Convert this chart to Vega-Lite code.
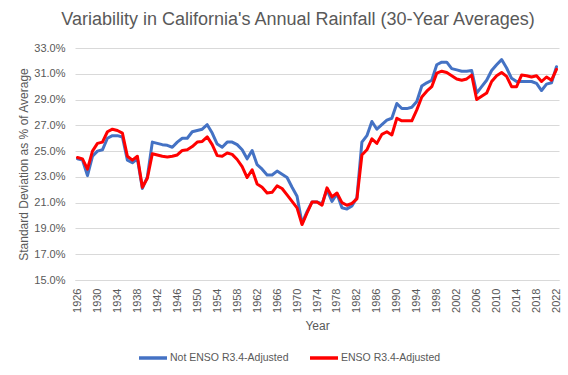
{
  "$schema": "https://vega.github.io/schema/vega-lite/v6.json",
  "width": 484,
  "height": 232,
  "autosize": {"type": "none"},
  "padding": {"left": 75, "top": 48, "right": 9, "bottom": 95},
  "background": "white",
  "title": {
    "text": "Variability in California's Annual Rainfall (30-Year Averages)",
    "fontSize": 18,
    "font": "Liberation Sans",
    "fontWeight": "normal",
    "color": "#595959",
    "anchor": "middle",
    "dx": -19,
    "offset": 13
  },
  "data": {
    "values": [
      {"year": 1926, "s1": 24.4, "s2": 24.5},
      {"year": 1927, "s1": 24.3, "s2": 24.4},
      {"year": 1928, "s1": 23.1, "s2": 23.6},
      {"year": 1929, "s1": 24.6, "s2": 25.0},
      {"year": 1930, "s1": 25.0, "s2": 25.6},
      {"year": 1931, "s1": 25.1, "s2": 25.7},
      {"year": 1932, "s1": 26.0, "s2": 26.5},
      {"year": 1933, "s1": 26.2, "s2": 26.7},
      {"year": 1934, "s1": 26.2, "s2": 26.6},
      {"year": 1935, "s1": 26.1, "s2": 26.4},
      {"year": 1936, "s1": 24.3, "s2": 24.6},
      {"year": 1937, "s1": 24.1, "s2": 24.3},
      {"year": 1938, "s1": 24.4, "s2": 24.6},
      {"year": 1939, "s1": 22.1, "s2": 22.2},
      {"year": 1940, "s1": 23.0, "s2": 22.9},
      {"year": 1941, "s1": 25.7, "s2": 24.8},
      {"year": 1942, "s1": 25.6, "s2": 24.7},
      {"year": 1943, "s1": 25.5, "s2": 24.6},
      {"year": 1944, "s1": 25.45, "s2": 24.55},
      {"year": 1945, "s1": 25.3, "s2": 24.6},
      {"year": 1946, "s1": 25.7, "s2": 24.7},
      {"year": 1947, "s1": 26.0, "s2": 25.05},
      {"year": 1948, "s1": 26.0, "s2": 25.1},
      {"year": 1949, "s1": 26.5, "s2": 25.35},
      {"year": 1950, "s1": 26.6, "s2": 25.7},
      {"year": 1951, "s1": 26.7, "s2": 25.75},
      {"year": 1952, "s1": 27.05, "s2": 26.1},
      {"year": 1953, "s1": 26.4, "s2": 25.5},
      {"year": 1954, "s1": 25.55, "s2": 24.65},
      {"year": 1955, "s1": 25.3, "s2": 24.6},
      {"year": 1956, "s1": 25.7, "s2": 24.85},
      {"year": 1957, "s1": 25.7, "s2": 24.75},
      {"year": 1958, "s1": 25.5, "s2": 24.35},
      {"year": 1959, "s1": 25.1, "s2": 23.8},
      {"year": 1960, "s1": 24.4, "s2": 22.95},
      {"year": 1961, "s1": 25.05, "s2": 23.55},
      {"year": 1962, "s1": 23.95, "s2": 22.45},
      {"year": 1963, "s1": 23.6, "s2": 22.2},
      {"year": 1964, "s1": 23.15, "s2": 21.75},
      {"year": 1965, "s1": 23.15, "s2": 21.8},
      {"year": 1966, "s1": 23.45, "s2": 22.3},
      {"year": 1967, "s1": 23.2, "s2": 22.1},
      {"year": 1968, "s1": 22.95, "s2": 21.6},
      {"year": 1969, "s1": 22.2, "s2": 21.1},
      {"year": 1970, "s1": 21.5, "s2": 20.6},
      {"year": 1971, "s1": 19.4, "s2": 19.3},
      {"year": 1972, "s1": 20.3, "s2": 20.2},
      {"year": 1973, "s1": 21.05, "s2": 21.05},
      {"year": 1974, "s1": 21.05, "s2": 21.05},
      {"year": 1975, "s1": 20.9, "s2": 20.8},
      {"year": 1976, "s1": 22.0, "s2": 22.15},
      {"year": 1977, "s1": 21.1, "s2": 21.45},
      {"year": 1978, "s1": 21.7, "s2": 21.75},
      {"year": 1979, "s1": 20.6, "s2": 21.0},
      {"year": 1980, "s1": 20.5, "s2": 20.8},
      {"year": 1981, "s1": 20.75, "s2": 20.95},
      {"year": 1982, "s1": 21.4, "s2": 21.3},
      {"year": 1983, "s1": 25.7, "s2": 24.7},
      {"year": 1984, "s1": 26.2, "s2": 25.1},
      {"year": 1985, "s1": 27.3, "s2": 25.95},
      {"year": 1986, "s1": 26.7, "s2": 25.6},
      {"year": 1987, "s1": 27.05, "s2": 26.3},
      {"year": 1988, "s1": 27.4, "s2": 26.5},
      {"year": 1989, "s1": 27.55, "s2": 26.25},
      {"year": 1990, "s1": 28.7, "s2": 27.55},
      {"year": 1991, "s1": 28.3, "s2": 27.35},
      {"year": 1992, "s1": 28.3, "s2": 27.35},
      {"year": 1993, "s1": 28.4, "s2": 27.35},
      {"year": 1994, "s1": 28.85, "s2": 28.2},
      {"year": 1995, "s1": 30.05, "s2": 29.2},
      {"year": 1996, "s1": 30.3, "s2": 29.65},
      {"year": 1997, "s1": 30.5, "s2": 30.0},
      {"year": 1998, "s1": 31.7, "s2": 31.05},
      {"year": 1999, "s1": 31.9, "s2": 31.2},
      {"year": 2000, "s1": 31.9, "s2": 31.1},
      {"year": 2001, "s1": 31.4, "s2": 30.85},
      {"year": 2002, "s1": 31.3, "s2": 30.6},
      {"year": 2003, "s1": 31.2, "s2": 30.5},
      {"year": 2004, "s1": 31.2, "s2": 30.6},
      {"year": 2005, "s1": 31.25, "s2": 30.9},
      {"year": 2006, "s1": 29.5, "s2": 29.0},
      {"year": 2007, "s1": 30.0, "s2": 29.25},
      {"year": 2008, "s1": 30.5, "s2": 29.5},
      {"year": 2009, "s1": 31.25, "s2": 30.4},
      {"year": 2010, "s1": 31.7, "s2": 30.85},
      {"year": 2011, "s1": 32.1, "s2": 31.1},
      {"year": 2012, "s1": 31.45, "s2": 30.8},
      {"year": 2013, "s1": 30.65, "s2": 30.0},
      {"year": 2014, "s1": 30.4, "s2": 30.0},
      {"year": 2015, "s1": 30.4, "s2": 30.9},
      {"year": 2016, "s1": 30.4, "s2": 30.85},
      {"year": 2017, "s1": 30.4, "s2": 30.75},
      {"year": 2018, "s1": 30.25, "s2": 30.85},
      {"year": 2019, "s1": 29.7, "s2": 30.4},
      {"year": 2020, "s1": 30.2, "s2": 30.75},
      {"year": 2021, "s1": 30.3, "s2": 30.5},
      {"year": 2022, "s1": 31.55, "s2": 31.35}
    ]
  },
  "transform": [{"fold": ["s1", "s2"], "as": ["series", "value"]}],
  "mark": {"type": "line", "strokeWidth": 3, "strokeJoin": "round", "strokeCap": "round"},
  "encoding": {
    "x": {
      "field": "year",
      "type": "ordinal",
      "scale": {"type": "point", "padding": 0.5},
      "axis": {
        "title": "Year",
        "values": [1926, 1930, 1934, 1938, 1942, 1946, 1950, 1954, 1958, 1962, 1966, 1970, 1974, 1978, 1982, 1986, 1990, 1994, 1998, 2002, 2006, 2010, 2014, 2018, 2022],
        "labelAngle": -90,
        "labelAlign": "right",
        "labelBaseline": "middle",
        "labelOverlap": false,
        "ticks": false,
        "grid": false,
        "domainColor": "#d9d9d9",
        "domainWidth": 1,
        "labelColor": "#595959",
        "labelFontSize": 11,
        "labelFont": "Liberation Sans",
        "labelPadding": 8,
        "titleFont": "Liberation Sans",
        "titleFontSize": 12,
        "titleColor": "#595959",
        "titleFontWeight": "normal",
        "titlePadding": 8
      }
    },
    "y": {
      "field": "value",
      "type": "quantitative",
      "scale": {"domain": [15, 33], "nice": false, "zero": false},
      "axis": {
        "title": "Standard Deviation as % of Average",
        "values": [15, 17, 19, 21, 23, 25, 27, 29, 31, 33],
        "labelExpr": "format(datum.value, '.1f') + '%'",
        "domain": false,
        "ticks": false,
        "gridColor": "#d9d9d9",
        "gridWidth": 1,
        "labelPadding": 10,
        "labelColor": "#595959",
        "labelFontSize": 11,
        "labelFont": "Liberation Sans",
        "titleFont": "Liberation Sans",
        "titleFontSize": 12,
        "titleColor": "#595959",
        "titleFontWeight": "normal",
        "titlePadding": 3
      }
    },
    "color": {
      "field": "series",
      "type": "nominal",
      "scale": {"domain": ["s1", "s2"], "range": ["#4472C4", "#FF0000"]},
      "legend": {
        "title": null,
        "orient": "none",
        "legendX": 62,
        "legendY": 294,
        "direction": "horizontal",
        "symbolType": "stroke",
        "symbolSize": 784,
        "symbolStrokeWidth": 3.5,
        "labelFontSize": 10.5,
        "labelFont": "Liberation Sans",
        "labelColor": "#595959",
        "labelOffset": 1,
        "columnPadding": 14,
        "labelExpr": "datum.label == 's1' ? 'Not ENSO R3.4-Adjusted' : 'ENSO R3.4-Adjusted'"
      }
    }
  },
  "config": {"view": {"stroke": null}, "font": "Liberation Sans"}
}
